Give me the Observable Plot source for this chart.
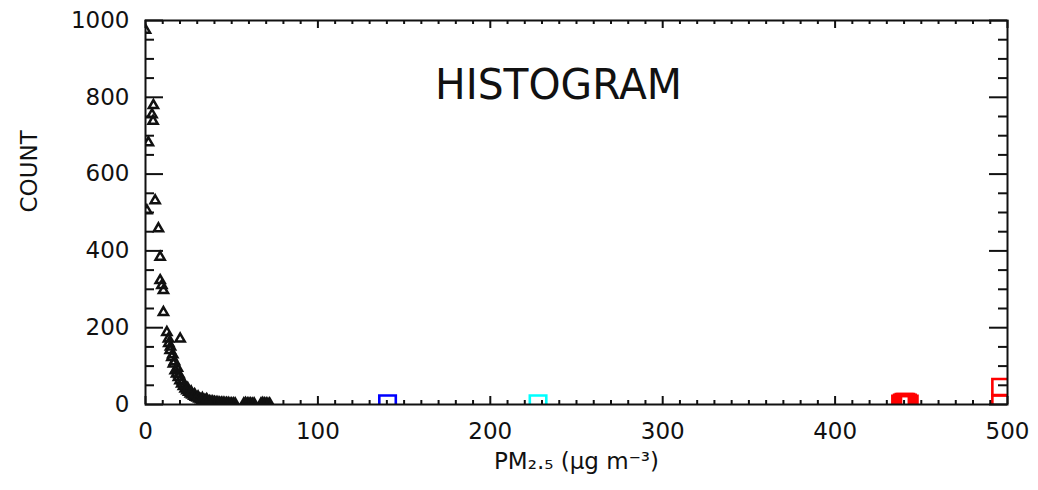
<!DOCTYPE html>
<html><head><meta charset="utf-8">
<script src="https://cdn.jsdelivr.net/npm/d3@7"></script>
<script src="https://cdn.jsdelivr.net/npm/@observablehq/plot@0.6"></script>
<style>body{margin:0;background:#fff}</style>
</head><body><div id="chart"></div>
<script>
// Black triangles: PM2.5 bin value and count
const triPM = [0, 1.7, 0.8, 4.6, 3.8, 4.4, 5.6, 7.5, 8.5, 8.5, 9.5, 10.4, 10.4, 12.4, 13.3, 20.1, 13.5, 14.3, 15.3, 16.2, 17.2, 18, 19.1, 20, 21, 22, 23, 24, 25, 26, 27, 28, 29, 30, 31, 32, 33, 34, 35, 36, 37, 38, 39, 40, 41, 42, 43, 44, 45, 46, 47, 48, 49, 50, 51, 52, 57, 58, 59, 60, 61, 62, 63, 67, 68, 69, 70, 71, 72,
  14.5, 15.8, 16.8, 18.5, 19.5, 21.5, 22.5, 24.5, 26.5, 28.5, 30.5, 33, 35.5];
const triCount = [975, 682, 505, 779, 755, 738, 531, 458, 384, 323, 310, 297, 240, 188, 171, 171, 159, 141, 123, 106, 88, 80, 71, 62, 54, 47, 41, 36, 32, 28, 25, 22, 19, 17, 15, 13, 12, 11, 10, 9, 8, 7, 7, 6, 5, 5, 4, 4, 4, 3, 3, 3, 2, 2, 2, 2, 2, 3, 2, 2, 2, 1, 2, 2, 3, 2, 2, 1, 2,
  150, 130, 112, 95, 78, 60, 50, 42, 33, 26, 20, 16, 13];
// Coloured squares
const bluePM = [140.4], blueCount = [2];
const cyanPM = [227.7], cyanCount = [2];
const redPM = [438, 439, 440, 441, 442, 443, 496, 496];
const redCount = [1, 4, 6, 6, 4, 1, 45, 3];
// Tick values / labels
const xMajor = [0, 100, 200, 300, 400, 500];
const yMajor = [0, 200, 400, 600, 800, 1000];
const xMinor = d3.range(0, 501, 10).filter(v => v % 100 !== 0);
const yMinor = d3.range(0, 1001, 50).filter(v => v % 200 !== 0);
const titleText = "HISTOGRAM";
const xLabel = "PM₂.₅ (μg m⁻³)";
const yLabel = "COUNT";

const W = 1038, H = 490, mL = 145, mR = 31, mT = 20, mB = 86;
const plotW = W - mL - mR, plotH = H - mT - mB;
const ink = "#111";

const tri = triPM.map((v, i) => ({v, c: triCount[i]}));
const sq = (xs, ys, col) => xs.map((v, i) => ({v, c: ys[i], col}));
const squares = [...sq(bluePM, blueCount, "#0000ff"), ...sq(cyanPM, cyanCount, "#00ffff"), ...sq(redPM, redCount, "#ff0000")];

const chart = Plot.plot({
  width: W, height: H,
  marginLeft: mL, marginRight: mR, marginTop: mT, marginBottom: mB,
  style: {fontFamily: "DejaVu Sans", fontSize: "23px", background: "#fff", color: ink},
  x: {domain: [0, 500]},
  y: {domain: [0, 1000]},
  marks: [
    Plot.dot(tri, {x: "v", y: "c", symbol: "triangle", r: 3.4, stroke: ink, strokeWidth: 2.5, fill: "none", clip: true}),
    Plot.dot(squares, {x: "v", y: "c", symbol: "square", r: 9.3, stroke: "col", strokeWidth: 2.6, fill: "none", clip: true}),
    // inward ticks on all four sides
    Plot.tickX(xMinor, {x: d => d, insetTop: plotH - 4, stroke: ink, strokeWidth: 2}),
    Plot.tickX(xMajor, {x: d => d, insetTop: plotH - 8, stroke: ink, strokeWidth: 2}),
    Plot.tickX(xMinor, {x: d => d, insetBottom: plotH - 4, stroke: ink, strokeWidth: 2}),
    Plot.tickX(xMajor, {x: d => d, insetBottom: plotH - 8, stroke: ink, strokeWidth: 2}),
    Plot.tickY(yMinor, {y: d => d, insetRight: plotW - 9, stroke: ink, strokeWidth: 2}),
    Plot.tickY(yMajor, {y: d => d, insetRight: plotW - 18, stroke: ink, strokeWidth: 2}),
    Plot.tickY(yMinor, {y: d => d, insetLeft: plotW - 9, stroke: ink, strokeWidth: 2}),
    Plot.tickY(yMajor, {y: d => d, insetLeft: plotW - 18, stroke: ink, strokeWidth: 2}),
    Plot.frame({stroke: ink, strokeWidth: 2}),
    Plot.axisX(xMajor, {tickSize: 0, tickPadding: 18, label: null, fontSize: 23, tickFormat: d => String(d)}),
    Plot.axisY(yMajor, {tickSize: 0, tickPadding: 16, label: null, fontSize: 23, tickFormat: d => String(d)}),
    Plot.text([xLabel], {frameAnchor: "bottom", lineAnchor: "top", dy: 48, fontSize: 23}),
    Plot.text([yLabel], {frameAnchor: "left", rotate: -90, dx: -116, fontSize: 23}),
    Plot.text([titleText], {frameAnchor: "top", dx: -18, dy: 49, fontSize: 42})
  ]
});
document.getElementById("chart").appendChild(chart);
chart.querySelectorAll("text").forEach(t => {
  if (t.textContent === titleText) { t.setAttribute("textLength", 247); t.setAttribute("lengthAdjust", "spacingAndGlyphs"); }
});
</script>
</body></html>
